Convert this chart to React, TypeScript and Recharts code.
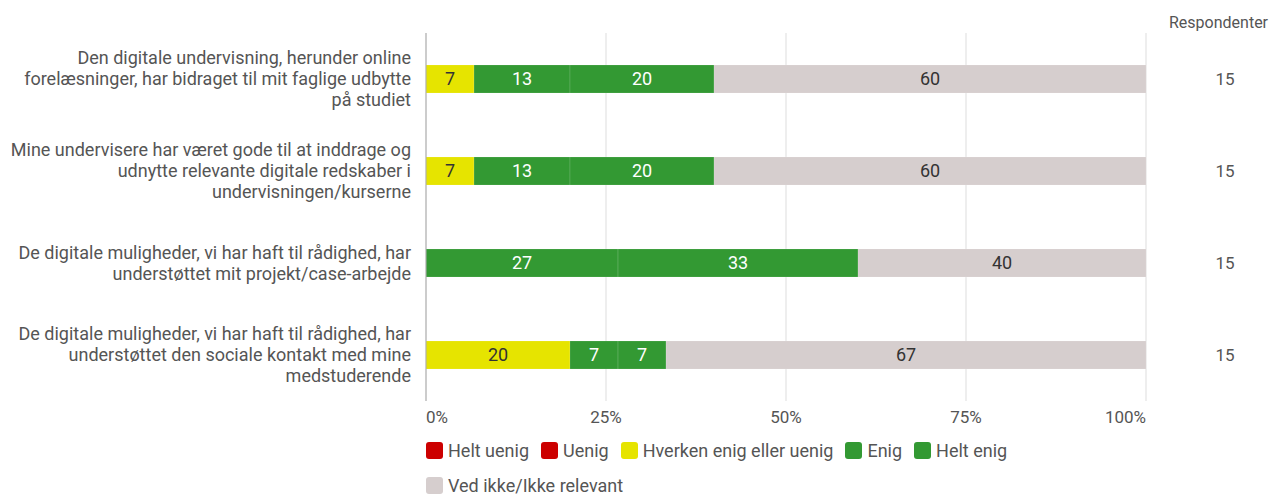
import React from "react";
import {
  BarChart,
  Bar,
  XAxis,
  YAxis,
  CartesianGrid,
  LabelList,
  Legend,
} from "recharts";

const questions = [
  ["Den digitale undervisning, herunder online", "forelæsninger, har bidraget til mit faglige udbytte", "på studiet"],
  ["Mine undervisere har været gode til at inddrage og", "udnytte relevante digitale redskaber i", "undervisningen/kurserne"],
  ["De digitale muligheder, vi har haft til rådighed, har", "understøttet mit projekt/case-arbejde"],
  ["De digitale muligheder, vi har haft til rådighed, har", "understøttet den sociale kontakt med mine", "medstuderende"],
];

// percentages per answer option
const heltUenig = [0, 0, 0, 0];
const uenig = [0, 0, 0, 0];
const hverken = [6.67, 6.67, 0, 20];
const enig = [13.33, 13.33, 26.67, 6.67];
const heltEnig = [20, 20, 33.33, 6.67];
const vedIkke = [60, 60, 40, 66.66];
const respondents = [15, 15, 15, 15];

const xTicks = [0, 25, 50, 75, 100];

const series = [
  { key: "heltUenig", name: "Helt uenig", color: "#cc0000", text: "#fff" },
  { key: "uenig", name: "Uenig", color: "#cc0000", text: "#fff" },
  { key: "hverken", name: "Hverken enig eller uenig", color: "#e6e400", text: "#333" },
  { key: "enig", name: "Enig", color: "#339933", text: "#fff" },
  { key: "heltEnig", name: "Helt enig", color: "#339933", text: "#fff" },
  { key: "vedIkke", name: "Ved ikke/Ikke relevant", color: "#d6cece", text: "#333" },
];

const data = questions.map((lines, i) => ({
  category: lines.join(" "),
  heltUenig: heltUenig[i],
  uenig: uenig[i],
  hverken: hverken[i],
  enig: enig[i],
  heltEnig: heltEnig[i],
  vedIkke: vedIkke[i],
  respondents: respondents[i],
}));

const FONT = "Roboto, 'Noto Sans', sans-serif";
const TEXT = "#555";

const LeftTick = (props: any) => {
  const { x, y, index } = props;
  const lines = questions[index] || [];
  return (
    <text x={x} y={y} textAnchor="end" fill={TEXT} fontSize={18} fontFamily={FONT}>
      {lines.map((l, i) => (
        <tspan key={i} x={x} dy={i === 0 ? (-(lines.length - 1) / 2) * 21 + 6 : 21}>
          {l}
        </tspan>
      ))}
    </text>
  );
};

const RightTick = (props: any) => {
  const { x, y, index } = props;
  return (
    <text x={x} y={y} dx={79} dy={6} textAnchor="middle" fill={TEXT} fontSize={17} fontFamily={FONT}>
      {respondents[index]}
    </text>
  );
};

const BottomTick = (props: any) => {
  const { x, y, payload, index } = props;
  const anchor = index === 0 ? "start" : index === xTicks.length - 1 ? "end" : "middle";
  return (
    <text x={x} y={y} dy="0.71em" textAnchor={anchor} fill={TEXT} fontSize={17} fontFamily={FONT}>
      {payload.value}%
    </text>
  );
};

const LegendContent = () => (
  <div
    style={{
      paddingLeft: 418,
      paddingTop: 5,
      height: 66,
      boxSizing: "border-box",
      fontFamily: FONT,
      fontSize: 18,
      color: TEXT,
    }}
  >
    <div style={{ display: "flex", flexWrap: "wrap", width: 720 }}>
      {series.map((s) => (
        <div key={s.key} style={{ display: "flex", alignItems: "center", height: 35, marginRight: 12 }}>
          <span
            style={{
              display: "inline-block",
              width: 17,
              height: 17,
              borderRadius: 3,
              background: s.color,
              marginRight: 5,
            }}
          />
          <span>{s.name}</span>
        </div>
      ))}
    </div>
  </div>
);

export default function App() {
  return (
    <div style={{ position: "relative", width: 1265, height: 486 }}>
      <div
        style={{
          position: "absolute",
          left: 1161,
          top: 5,
          fontFamily: FONT,
          fontSize: 16,
          color: TEXT,
        }}
      >
        Respondenter
      </div>
      <BarChart
        width={1265}
        height={486}
        data={data}
        layout="vertical"
        margin={{ top: 25, right: 0, bottom: 0, left: 0 }}
        barCategoryGap={0}
      >
        <CartesianGrid horizontal={false} stroke="#dddddd" />
        <XAxis
          type="number"
          domain={[0, 100]}
          ticks={xTicks}
          axisLine={false}
          tickLine={false}
          tickSize={0}
          tickMargin={10}
          height={27}
          tick={<BottomTick />}
        />
        <YAxis
          yAxisId="left"
          type="category"
          dataKey="category"
          width={418}
          axisLine={{ stroke: "#aaaaaa" }}
          tickLine={false}
          tickSize={0}
          tickMargin={15}
          tick={<LeftTick />}
        />
        <YAxis
          yAxisId="right"
          orientation="right"
          type="category"
          dataKey="category"
          width={127}
          axisLine={false}
          tickLine={false}
          tickSize={0}
          tickMargin={0}
          tick={<RightTick />}
        />
        <Legend verticalAlign="bottom" align="left" content={<LegendContent />} />
        {series.map((s) => (
          <Bar
            key={s.key}
            yAxisId="left"
            dataKey={s.key}
            name={s.name}
            stackId="a"
            fill={s.color}
            stroke="#ffffff"
            strokeOpacity={0.12}
            barSize={28}
            isAnimationActive={false}
          >
            <LabelList
              dataKey={s.key}
              position="center"
              fill={s.text}
              fontSize={18}
              fontFamily={FONT}
              formatter={(v: any) => (Number(v) > 0 ? Math.round(Number(v)) : "")}
            />
          </Bar>
        ))}
      </BarChart>
    </div>
  );
}
